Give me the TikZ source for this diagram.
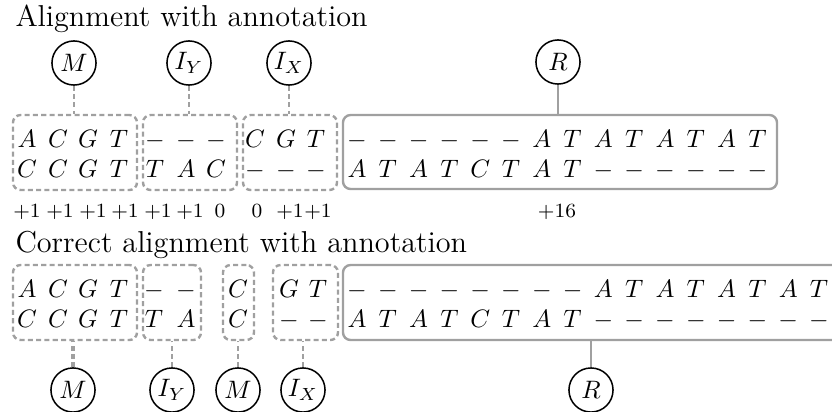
\documentclass[tikz,border=0pt]{standalone}
\usepackage{tikz}
\usetikzlibrary{fit}

\definecolor{boxgray}{RGB}{160,160,160}

\tikzset{
  state/.style={circle, draw, line width=0.6pt, minimum size=17.5pt, inner sep=0pt},
  dbox/.style={draw=boxgray, line width=0.95pt, dash pattern=on 2pt off 1.3pt, rounded corners=3pt, inner sep=0pt},
  sbox/.style={draw=boxgray, line width=0.95pt, rounded corners=3pt, inner sep=0pt},
  dlink/.style={draw=boxgray, line width=0.95pt, dash pattern=on 2pt off 1.3pt},
  slink/.style={draw=boxgray, line width=0.95pt},
  sym/.style={anchor=base, inner sep=0pt},
  score/.style={anchor=base, inner sep=0pt, font=\footnotesize},
}

\begin{document}
\begin{tikzpicture}[x=0.3968pt, y=-0.3968pt]
    \useasboundingbox (0,0) rectangle (832,411);

    % first alignment
    \node[anchor=base west, inner sep=0pt, font=\large] (title1) at (15,26) {Alignment with annotation};
    \foreach \x/\c [count=\i] in {27/A,58/C,88/G,119/T,155/-,186/-,216/-,255/C,286/G,316/T}
        \node[sym] (ua\i) at (\x,147) {$\c$};
    \foreach \x/\c [count=\i] in {27/C,58/C,88/G,119/T,155/T,186/A,216/C,255/-,286/-,316/-}
        \node[sym] (ub\i) at (\x,177) {$\c$};
    \foreach \c [count=\i from 0] in {-,-,-,-,-,-,A,T,A,T,A,T,A,T}
        \node[sym] (uc\i) at ({357+30.8*\i},147) {$\c$};
    \foreach \c [count=\i from 0] in {A,T,A,T,C,T,A,T,-,-,-,-,-,-}
        \node[sym] (ud\i) at ({357+30.8*\i},177) {$\c$};

    \node[dbox, fit={(13,115) (137,190)}] (uM) {};
    \node[dbox, fit={(143,115) (237,190)}] (uIY) {};
    \node[dbox, fit={(243,115) (337,190)}] (uIX) {};
    \node[sbox, fit={(343,115) (777,189)}] (uR) {};

    \node[state] (uMs) at (74,63) {$M$};
    \node[state] (uIYs) at (189,63) {$I_Y$};
    \node[state] (uIXs) at (289,63) {$I_X$};
    \node[state] (uRs) at (558,62) {$R$};
    \draw[dlink] (uMs) -- (uMs |- uM.north);
    \draw[dlink] (uIYs) -- (uIYs |- uIY.north);
    \draw[dlink] (uIXs) -- (uIXs |- uIX.north);
    \draw[slink] (uRs) -- (uRs |- uR.north);

    \foreach \x/\s [count=\i] in {27/+1,60/+1,93/+1,125/+1,158/+1,190/+1,220/0,257/0,290/+1,318/+1,557/+16}
        \node[score] (sc\i) at (\x,217) {\s};

    % corrected alignment
    \node[anchor=base west, inner sep=0pt, font=\large] (title2) at (15,252) {Correct alignment with annotation};
    \foreach \x/\c [count=\i] in {27/A,58/C,88/G,119/T,154/-,186/-,238/C,289/G,318/T}
        \node[sym] (la\i) at (\x,297) {$\c$};
    \foreach \x/\c [count=\i] in {27/C,58/C,88/G,119/T,154/T,186/A,238/C,289/-,318/-}
        \node[sym] (lb\i) at (\x,327) {$\c$};
    \foreach \c [count=\i from 0] in {-,-,-,-,-,-,-,-,A,T,A,T,A,T,A,T}
        \node[sym] (lc\i) at ({357+30.8*\i},297) {$\c$};
    \foreach \c [count=\i from 0] in {A,T,A,T,C,T,A,T,-,-,-,-,-,-,-,-}
        \node[sym] (ld\i) at ({357+30.8*\i},327) {$\c$};

    \node[dbox, fit={(13,265) (137,340)}] (lM) {};
    \node[dbox, fit={(143,265) (201,340)}] (lIY) {};
    \node[dbox, fit={(223,265) (254,340)}] (lMb) {};
    \node[dbox, fit={(273,265) (338,340)}] (lIX) {};
    \node[sbox, fit={(343,265) (850,340)}] (lR) {};

    \node[state] (lMs) at (73,390) {$M$};
    \node[state] (lIYs) at (172,390) {$I_Y$};
    \node[state] (lMbs) at (238,390) {$M$};
    \node[state] (lIXs) at (303,390) {$I_X$};
    \node[state] (lRs) at (591,390) {$R$};
    \draw[dlink, line width=1.8pt] (lMs) -- (lMs |- lM.south);
    \draw[dlink] (lIYs) -- (lIYs |- lIY.south);
    \draw[dlink] (lMbs) -- (lMbs |- lMb.south);
    \draw[dlink] (lIXs) -- (lIXs |- lIX.south);
    \draw[slink] (lRs) -- (lRs |- lR.south);
\end{tikzpicture}
\end{document}
